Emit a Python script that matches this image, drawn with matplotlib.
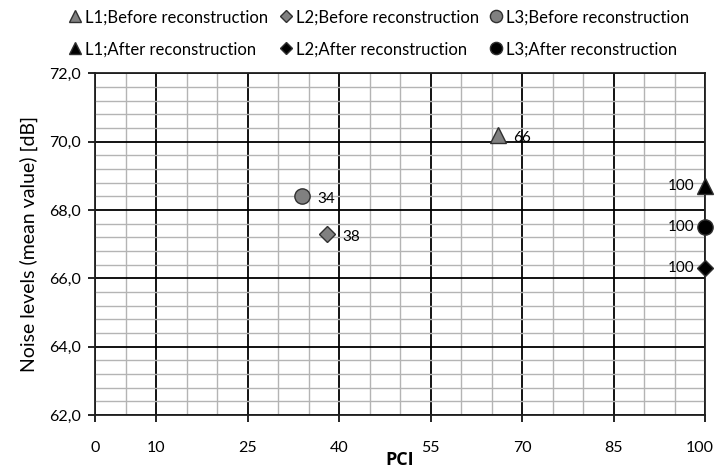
import numpy as np
import matplotlib
matplotlib.use('Agg')
import matplotlib.pyplot as plt
from matplotlib.ticker import FixedLocator, MultipleLocator, FuncFormatter
import matplotlib.transforms as mtransforms

plt.rcParams['font.family'] = ['Lato', 'DejaVu Sans']

# data
series = ['L1;Before reconstruction', 'L2;Before reconstruction', 'L3;Before reconstruction',
          'L1;After reconstruction', 'L2;After reconstruction', 'L3;After reconstruction']
pci = [66, 38, 34, 100, 100, 100]
noise = [70.2, 67.3, 68.4, 68.7, 66.3, 67.5]
markers = ['^', 'D', 'o', '^', 'D', 'o']
colors = ['#808080', '#808080', '#808080', 'black', 'black', 'black']
sizes = [11, 8, 11, 11, 8, 11]
label_side = ['right', 'right', 'right', 'left', 'left', 'left']

x_ticks = [0, 10, 25, 40, 55, 70, 85, 100]

fig = plt.figure(figsize=(7.17, 4.74), dpi=100)
ax = fig.add_axes([0.1325, 0.1245, 0.851, 0.7205])

handles = []
for i in range(len(series)):
    h, = ax.plot(pci[i], noise[i], linestyle='none', marker=markers[i], markersize=sizes[i],
                 markerfacecolor=colors[i], markeredgecolor='#303030', markeredgewidth=1,
                 label=series[i], clip_on=False, zorder=5)
    handles.append(h)
    if label_side[i] == 'right':
        ax.annotate(str(pci[i]), (pci[i], noise[i]), xytext=(11, -2), textcoords='offset points',
                    ha='left', va='center', fontsize=11, zorder=6)
    else:
        ax.annotate(str(pci[i]), (pci[i], noise[i]), xytext=(-8, 0), textcoords='offset points',
                    ha='right', va='center', fontsize=11, zorder=6)

ax.set_xlim(0, 100)
ax.set_ylim(62, 72)
ax.xaxis.set_major_locator(FixedLocator(x_ticks))
ax.xaxis.set_minor_locator(MultipleLocator(5))
ax.yaxis.set_major_locator(MultipleLocator(2))
ax.yaxis.set_minor_locator(MultipleLocator(0.4))
ax.yaxis.set_major_formatter(FuncFormatter(lambda v, p: f'{v:.1f}'.replace('.', ',')))

ax.grid(which='minor', color='#b4b4b4', linewidth=1.0)
ax.grid(which='major', color='black', linewidth=1.3)
ax.set_axisbelow(True)
for s in ax.spines.values():
    s.set_color('#202020')
    s.set_linewidth(1.3)

ax.tick_params(which='major', length=5, width=1.2, labelsize=11.5, pad=14)
ax.tick_params(axis='y', pad=5)
ax.tick_params(which='minor', length=0)

# keep the "100" tick label inside the figure
fig.canvas.draw()
last = ax.get_xticklabels()[-1]
last.set_transform(last.get_transform() + mtransforms.ScaledTranslation(-4 / 72, 0, fig.dpi_scale_trans))

ax.set_xlabel('PCI', fontsize=13, fontweight='bold', family=['Open Sans', 'DejaVu Sans'], labelpad=-3)
ax.set_ylabel('Noise levels (mean value) [dB]', fontsize=14, labelpad=8)

# legend filled row by row: reorder for column-major layout
order = [0, 3, 1, 4, 2, 5]
fig.legend([handles[k] for k in order], [series[k] for k in order],
           loc='upper left', bbox_to_anchor=(0.072, 1.012), ncol=3, frameon=False,
           fontsize=12, handletextpad=0.1, columnspacing=0.55, labelspacing=0.95,
           handlelength=1.0, markerscale=0.8)

fig.savefig('out.png', dpi=100)
